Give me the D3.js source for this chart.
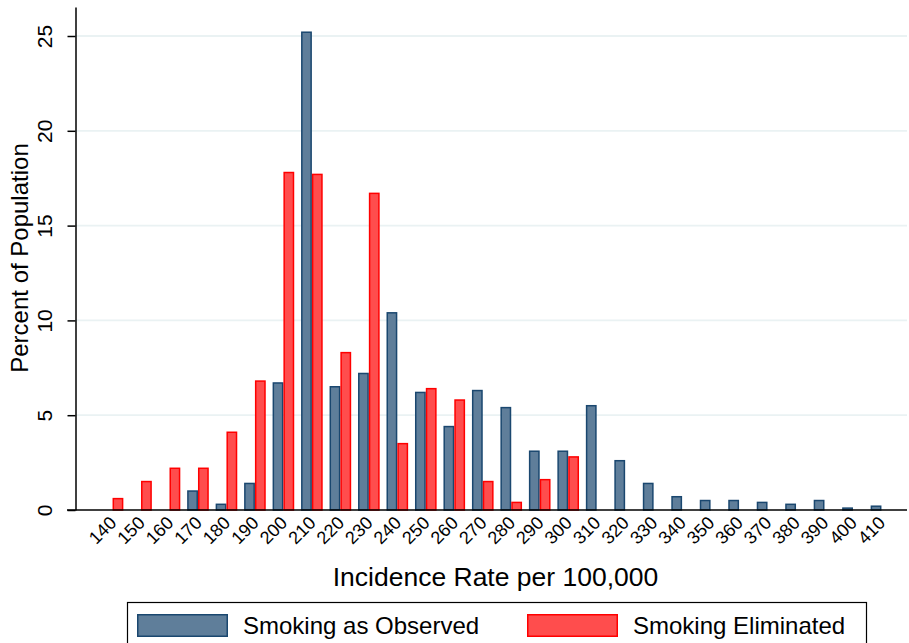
<!DOCTYPE html>
<html>
<head>
<meta charset="utf-8">
<script src="https://cdn.jsdelivr.net/npm/d3@7"></script>
<style>
  html, body { margin: 0; padding: 0; background: #fff; }
  svg { display: block; font-family: "Liberation Sans", Arial, sans-serif; }
</style>
</head>
<body>
<svg id="chart" width="909" height="643"></svg>
<script>
const categories = ["140","150","160","170","180","190","200","210","220","230","240","250","260","270","280","290","300","310","320","330","340","350","360","370","380","390","400","410"];
const observed   = [0, 0, 0, 1.0, 0.3, 1.4, 6.7, 25.2, 6.5, 7.2, 10.4, 6.2, 4.4, 6.3, 5.4, 3.1, 3.1, 5.5, 2.6, 1.4, 0.7, 0.5, 0.5, 0.4, 0.3, 0.5, 0.1, 0.2];
const eliminated = [0.6, 1.5, 2.2, 2.2, 4.1, 6.8, 17.8, 17.7, 8.3, 16.7, 3.5, 6.4, 5.8, 1.5, 0.4, 1.6, 2.8, 0, 0, 0, 0, 0, 0, 0, 0, 0, 0, 0];
const yTicks = [0, 5, 10, 15, 20, 25];
const seriesNames = ["Smoking as Observed", "Smoking Eliminated"];
const xTitle = "Incidence Rate per 100,000";
const yTitle = "Percent of Population";

const fills = ["#5f7e9a", "#ff4d4d"];
const strokes = ["#1a476f", "#ff0000"];

const svg = d3.select("#chart");
const axisX = 75.5, plotRight = 907, zeroY = 510, topY = 7;

const x = d3.scaleBand().domain(categories).range([98.3, 895.7]).paddingInner(0.24).paddingOuter(0.12);
const xs = d3.scaleBand().domain([0, 1]).range([0, x.bandwidth()]);
const y = d3.scaleLinear().domain([0, 26.53]).range([zeroY, topY]);

// gridlines
svg.append("g").selectAll("line").data(yTicks.filter(d => d > 0)).join("line")
  .attr("x1", axisX).attr("x2", plotRight)
  .attr("y1", d => y(d)).attr("y2", d => y(d))
  .attr("stroke", "#eaf2f3").attr("stroke-width", 1.8);

// bars
const series = [observed, eliminated];
series.forEach((vals, si) => {
  svg.append("g").selectAll("rect").data(vals.map((v, i) => ({c: categories[i], v})).filter(d => d.v > 0)).join("rect")
    .attr("x", d => x(d.c) + xs(si) + 0.75)
    .attr("y", d => y(d.v))
    .attr("width", xs.bandwidth() - 1.5)
    .attr("height", d => zeroY - y(d.v))
    .attr("fill", fills[si])
    .attr("stroke", strokes[si])
    .attr("stroke-width", 1.5);
});

// y axis
const yAxis = d3.axisLeft(y).tickValues(yTicks).tickSize(8).tickSizeOuter(0).tickFormat(d3.format("d"));
const gy = svg.append("g").attr("transform", `translate(${axisX},0)`).call(yAxis);
gy.select(".domain").attr("stroke", "#000").attr("stroke-width", 1.5);
gy.selectAll(".tick line").attr("stroke", "#000").attr("stroke-width", 1.5);
gy.selectAll(".tick text")
  .attr("x", null).attr("dy", null)
  .attr("transform", "translate(-23.5,0) rotate(-90)")
  .attr("text-anchor", "middle")
  .attr("font-size", 21)
  .attr("font-family", "Liberation Sans, Arial, sans-serif")
  .attr("fill", "#000");

// x axis
const xAxis = d3.axisBottom(x).tickSize(0).tickSizeOuter(0);
const gx = svg.append("g").attr("transform", `translate(0,${zeroY})`).call(xAxis);
gx.select(".domain").remove();
gx.append("line").attr("x1", 67).attr("x2", plotRight).attr("y1", 0).attr("y2", 0)
  .attr("stroke", "#000").attr("stroke-width", 1.5);
gx.selectAll(".tick text")
  .attr("y", null).attr("dy", null)
  .attr("transform", "translate(5,14) rotate(-45)")
  .attr("text-anchor", "end")
  .attr("font-size", 18)
  .attr("font-family", "Liberation Sans, Arial, sans-serif")
  .attr("fill", "#000");

// titles
svg.append("text").attr("x", 495.5).attr("y", 586).attr("text-anchor", "middle")
  .attr("font-size", 26.5).text(xTitle);
svg.append("text").attr("transform", "translate(28,258) rotate(-90)").attr("text-anchor", "middle")
  .attr("font-size", 24).text(yTitle);

// legend
const lg = svg.append("g");
lg.append("rect").attr("x", 127.5).attr("y", 602.5).attr("width", 739).attr("height", 60)
  .attr("fill", "#fff").attr("stroke", "#000").attr("stroke-width", 1.2);
const legX = [137, 527];
seriesNames.forEach((name, i) => {
  lg.append("rect").attr("x", legX[i] + 0.75).attr("y", 614.75).attr("width", 89.5).attr("height", 21.5)
    .attr("fill", fills[i]).attr("stroke", strokes[i]).attr("stroke-width", 1.5);
  lg.append("text").attr("x", legX[i] + 106).attr("y", 634).attr("font-size", 24).text(name);
});
</script>
</body>
</html>
